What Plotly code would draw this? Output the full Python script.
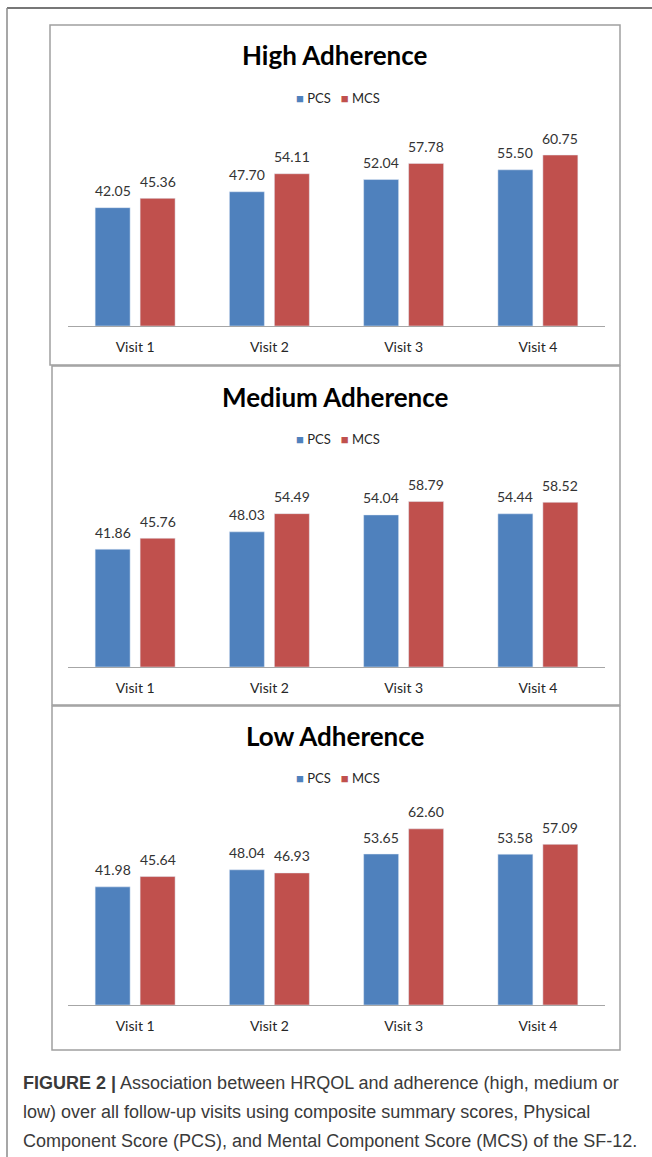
import plotly.graph_objects as go

W, H = 652, 1157

# ---- data ----
visits = ["Visit 1", "Visit 2", "Visit 3", "Visit 4"]
panel_titles = ["High Adherence", "Medium Adherence", "Low Adherence"]
series_names = ["PCS", "MCS"]

pcs_high = [42.05, 47.70, 52.04, 55.50]
mcs_high = [45.36, 54.11, 57.78, 60.75]
pcs_medium = [41.86, 48.03, 54.04, 54.44]
mcs_medium = [45.76, 54.49, 58.79, 58.52]
pcs_low = [41.98, 48.04, 53.65, 53.58]
mcs_low = [45.64, 46.93, 62.60, 57.09]

panel_series = [(pcs_high, mcs_high), (pcs_medium, mcs_medium), (pcs_low, mcs_low)]

caption_lines = [
    "<b>FIGURE 2 |</b> Association between HRQOL and adherence (high, medium or",
    "low) over all follow-up visits using composite summary scores, Physical",
    "Component Score (PCS), and Mental Component Score (MCS) of the SF-12.",
]

# ---- styling / layout (pixels) ----
colors = ["#4F81BD", "#C0504D"]
chart_font = "Lato, 'Open Sans', sans-serif"
caption_font = "'Liberation Sans', Arial, sans-serif"

plot_x0, plot_x1 = 68, 605
plot_h = 197
y_max = 70
bargap, bargroupgap = 0.33, 0.222

panels = [
    dict(box=(50, 25, 620, 365), axis_y=326, title_y=55, legend_y=98),
    dict(box=(52, 366, 620, 705), axis_y=667, title_y=397, legend_y=439),
    dict(box=(52, 706, 620, 1050), axis_y=1005, title_y=736, legend_y=778),
]
caption_y = [1083, 1112, 1141]


def px(x):
    return x / W


def py(y):
    return 1 - y / H


cat_w = (plot_x1 - plot_x0) / len(visits)
slot_w = cat_w * (1 - bargap) / len(series_names)
offsets = [-slot_w / 2, slot_w / 2]

fig = go.Figure()
shapes, annotations = [], []
layout_axes = {}

# outer figure frame (top and left rules)
shapes.append(dict(type="line", xref="paper", yref="paper",
                   x0=px(7), x1=px(W), y0=py(8), y1=py(8),
                   line=dict(color="#4a4a4a", width=1.5)))
shapes.append(dict(type="line", xref="paper", yref="paper",
                   x0=px(7), x1=px(7), y0=py(8), y1=py(H),
                   line=dict(color="#8a8a8a", width=1.5)))

for i, (p, title, (pcs, mcs)) in enumerate(zip(panels, panel_titles, panel_series)):
    n = "" if i == 0 else str(i + 1)
    xa, ya = "x" + n, "y" + n
    for vals, name, col in zip((pcs, mcs), series_names, colors):
        fig.add_trace(go.Bar(x=visits, y=vals, name=name, marker_color=col,
                             xaxis=xa, yaxis=ya, showlegend=False))
        # value labels above each bar
        k = series_names.index(name)
        for v, val in zip(visits, vals):
            annotations.append(dict(x=v, y=val, xref=xa, yref=ya, text=f"{val:.2f}",
                                    showarrow=False, xshift=offsets[k], yshift=17,
                                    yanchor="middle",
                                    font=dict(family=chart_font, size=14, color="#333333")))

    layout_axes["xaxis" + n] = dict(
        domain=[px(plot_x0), px(plot_x1)], anchor=ya,
        showline=True, linecolor="#A6A6A6", linewidth=1,
        ticks="outside", ticklen=8, tickcolor="rgba(0,0,0,0)",
        showgrid=False, zeroline=False,
        tickfont=dict(family=chart_font, size=14, color="#262626"),
    )
    layout_axes["yaxis" + n] = dict(
        domain=[py(p["axis_y"]), py(p["axis_y"] - plot_h)], anchor=xa,
        range=[0, y_max], visible=False, fixedrange=True,
    )

    bx0, by0, bx1, by1 = p["box"]
    shapes.append(dict(type="rect", xref="paper", yref="paper",
                       x0=px(bx0), x1=px(bx1), y0=py(by1), y1=py(by0),
                       line=dict(color="#A0A0A0", width=1.5), fillcolor="rgba(0,0,0,0)"))

    annotations.append(dict(x=px(335), y=py(p["title_y"]), xref="paper", yref="paper",
                            text=f"<b>{title}</b>", showarrow=False,
                            xanchor="center", yanchor="middle",
                            font=dict(family=chart_font, size=26, color="#000000")))

    legend_text = "   ".join(
        f"<span style='color:{c}'>■</span> {s}" for s, c in zip(series_names, colors))
    annotations.append(dict(x=px(338), y=py(p["legend_y"]), xref="paper", yref="paper",
                            text=legend_text, showarrow=False,
                            xanchor="center", yanchor="middle",
                            font=dict(family=chart_font, size=13, color="#262626")))

for line, y in zip(caption_lines, caption_y):
    annotations.append(dict(x=px(21), y=py(y), xref="paper", yref="paper",
                            text=line, showarrow=False, xanchor="left", yanchor="middle",
                            font=dict(family=caption_font, size=18, color="#3a3a3a")))

fig.update_layout(
    width=W, height=H,
    margin=dict(l=0, r=0, t=0, b=0),
    paper_bgcolor="white", plot_bgcolor="white",
    barmode="group", bargap=bargap, bargroupgap=bargroupgap,
    showlegend=False,
    shapes=shapes, annotations=annotations,
    **layout_axes,
)

fig.write_html("out.html", config={"displayModeBar": False})
